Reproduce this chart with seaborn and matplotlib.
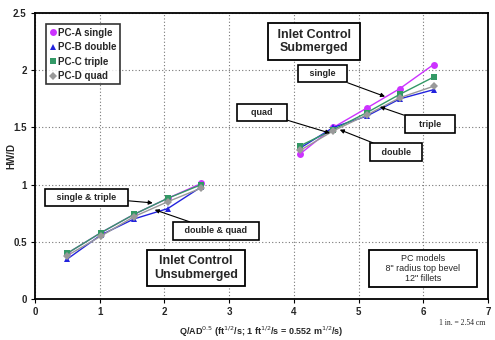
import matplotlib
matplotlib.use("Agg")
import matplotlib.pyplot as plt
import seaborn as sns
import pandas as pd

x_unsub = [0.50, 1.02, 1.53, 2.05, 2.57]
x_sub = [4.10, 4.61, 5.13, 5.64, 6.16]

single_unsub = [0.40, 0.58, 0.74, 0.88, 1.01]
double_unsub = [0.35, 0.56, 0.70, 0.79, 0.98]
triple_unsub = [0.40, 0.58, 0.74, 0.88, 1.00]
quad_unsub = [0.38, 0.55, 0.72, 0.85, 0.97]

single_sub = [1.27, 1.50, 1.67, 1.84, 2.05]
double_sub = [1.32, 1.50, 1.60, 1.75, 1.83]
triple_sub = [1.34, 1.48, 1.63, 1.79, 1.94]
quad_sub = [1.30, 1.47, 1.61, 1.76, 1.86]

series = ["PC-A single", "PC-B double", "PC-C triple", "PC-D quad"]
colors = ["#CC33FF", "#2222DD", "#339966", "#999999"]
markers = ["o", "^", "s", "D"]

sns.set_theme(style="white")
plt.rcParams["font.family"] = ["Liberation Sans", "DejaVu Sans"]

rows = []
for name, un, sb in zip(series,
                        [single_unsub, double_unsub, triple_unsub, quad_unsub],
                        [single_sub, double_sub, triple_sub, quad_sub]):
    for xv, yv in zip(x_unsub, un):
        rows.append((name, "unsub", xv, yv))
    for xv, yv in zip(x_sub, sb):
        rows.append((name, "sub", xv, yv))
df = pd.DataFrame(rows, columns=["series", "regime", "x", "y"])

fig = plt.figure(figsize=(4.95, 3.40), dpi=100)
ax = fig.add_axes([0.0707, 0.1206, 0.915, 0.841])

for name, c, m in zip(series, colors, markers):
    for regime in ["unsub", "sub"]:
        d = df[(df.series == name) & (df.regime == regime)]
        sns.lineplot(data=d, x="x", y="y", ax=ax, color=c, marker=m,
                     markersize=5 if m != "D" else 4.5, markeredgewidth=0,
                     linewidth=1.0, label=name if regime == "unsub" else None,
                     sort=False, estimator=None)

ax.set_xlim(0, 7)
ax.set_ylim(0, 2.5)
ax.set_xticks(range(0, 8))
ax.set_yticks([0, 0.5, 1, 1.5, 2, 2.5])
ax.set_yticklabels(["0", "0.5", "1", "1.5", "2", "2.5"])
ax.grid(True, linestyle=(0, (1, 2)), color="#777777", linewidth=0.8)
for s in ax.spines.values():
    s.set_color("black")
    s.set_linewidth(1.3)
ax.tick_params(axis="both", which="major", length=3, width=0.8, direction="out",
               labelsize=7, pad=3, bottom=True, left=True, color="black")
for lab in ax.get_xticklabels() + ax.get_yticklabels():
    lab.set_fontweight("bold")

ax.set_xlabel("Q/AD$^{0.5}$ (ft$^{1/2}$/s; 1 ft$^{1/2}$/s = 0.552 m$^{1/2}$/s)",
              fontsize=6.5, fontweight="bold", labelpad=5)
ax.set_ylabel("HW/D", fontsize=7, fontweight="bold")
ax.yaxis.set_label_coords(-0.042, 0.5)

leg = ax.legend(loc="upper left", bbox_to_anchor=(0.025, 0.96), frameon=True,
                fancybox=False, edgecolor="black", handlelength=0.6,
                handletextpad=0.3, borderpad=0.35, labelspacing=0.45,
                borderaxespad=0, prop={"weight": "bold", "size": 7})
leg.get_frame().set_linewidth(1.2)
for h in leg.get_lines():
    h.set_linestyle("none")

box = dict(boxstyle="square,pad=0.45", fc="white", ec="black", lw=1.2)
arrow = dict(arrowstyle="-|>", color="black", lw=0.8, mutation_scale=6,
             shrinkA=0, shrinkB=0)

labels = [("   single   ", (5.41, 1.77), (4.45, 1.97)),
          ("    quad    ", (4.56, 1.45), (3.51, 1.63)),
          ("    triple    ", (5.33, 1.68), (6.10, 1.53)),
          ("   double   ", (4.71, 1.48), (5.58, 1.285)),
          ("   single & triple   ", (1.82, 0.84), (0.80, 0.89)),
          ("   double & quad   ", (1.85, 0.78), (2.80, 0.595))]
for txt, xy, xyt in labels:
    ax.annotate(txt, xy=xy, xytext=xyt, ha="center", va="center",
                fontsize=6.5, fontweight="bold", bbox=box, arrowprops=arrow)

bigbox = dict(boxstyle="square,pad=0.45", fc="white", ec="black", lw=1.3)
ax.text(4.31, 2.25, " Inlet Control \nSubmerged", ha="center", va="center",
        fontsize=9, fontweight="bold", bbox=bigbox, linespacing=1.15)
ax.text(2.49, 0.27, "  Inlet Control  \nUnsubmerged", ha="center", va="center",
        fontsize=9, fontweight="bold", bbox=bigbox, linespacing=1.15)
ax.text(6.0, 0.27, "PC models\n     8\" radius top bevel     \n12\" fillets",
        ha="center", va="center", fontsize=6.5, bbox=bigbox, linespacing=1.15)

fig.text(462 / 495, 1 - 323 / 340, "1 in. = 2.54 cm", ha="center", va="center",
         fontsize=5.5, family=["Liberation Serif", "DejaVu Serif"])

fig.savefig("out.png", dpi=100)
